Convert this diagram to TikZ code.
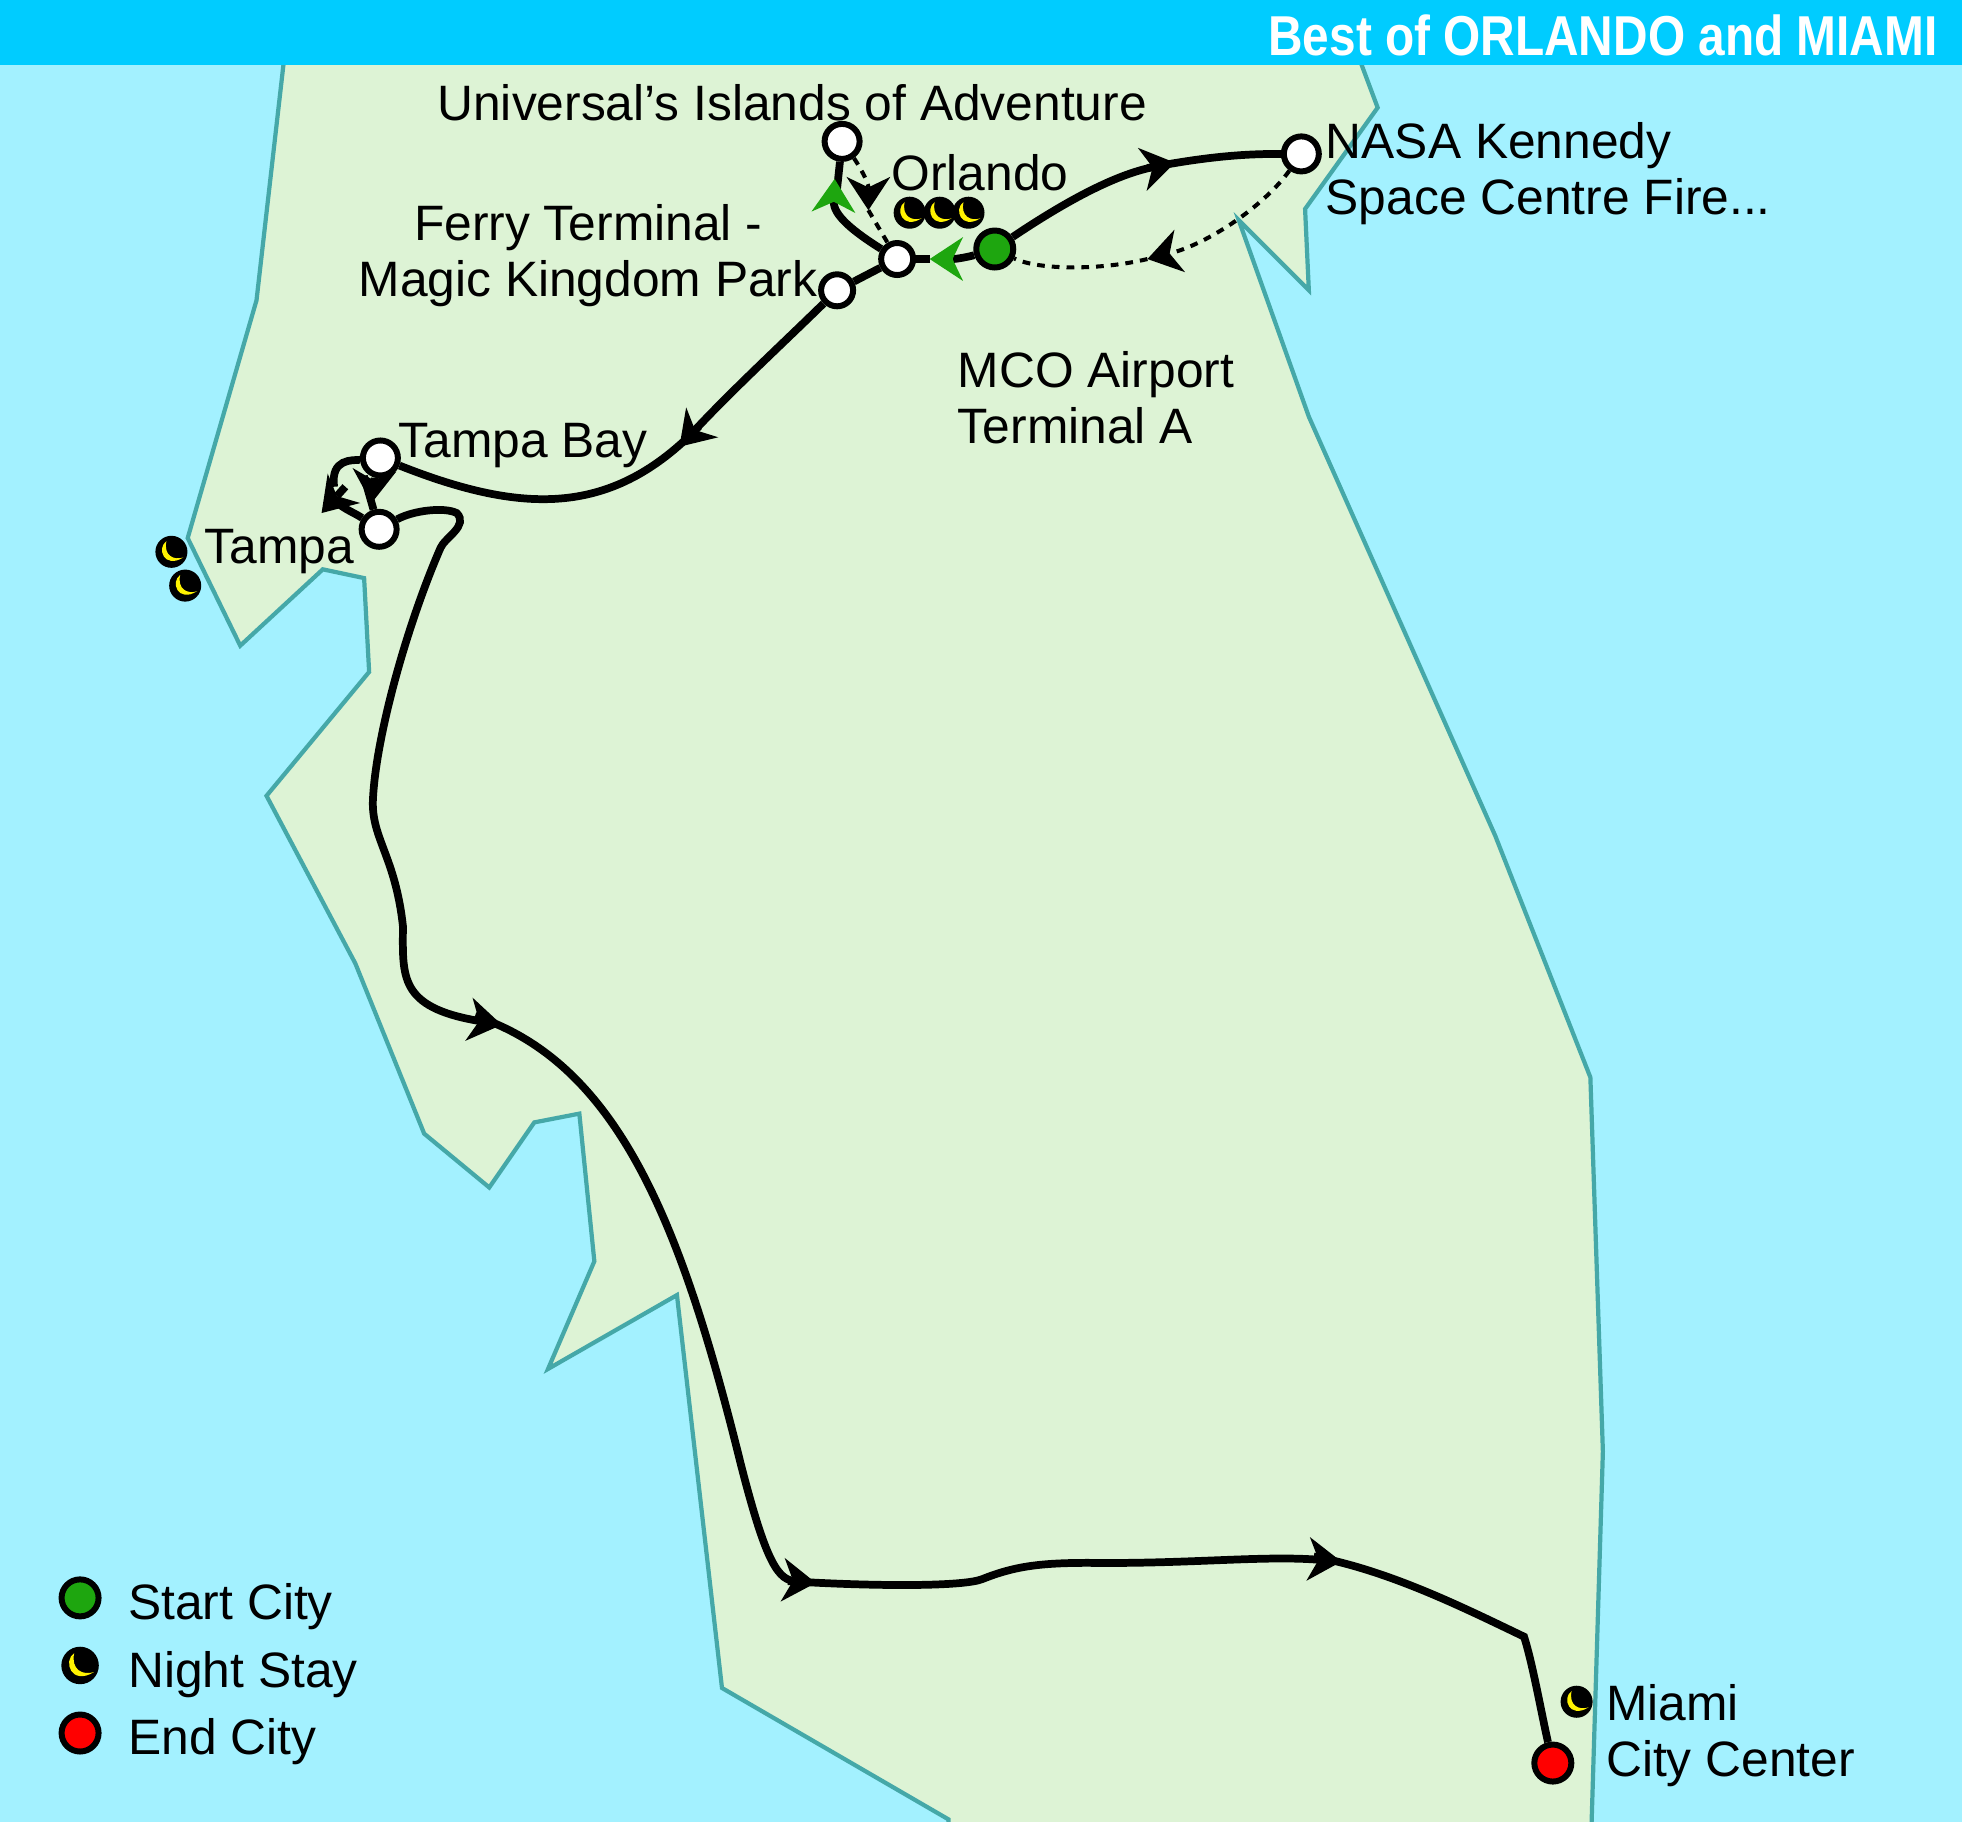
\documentclass[tikz,border=0pt]{standalone}
\usepackage{fontspec}
\setmainfont{Liberation Sans}
\usetikzlibrary{arrows.meta}
\definecolor{seablue}{HTML}{A3F1FF}
\definecolor{landgreen}{HTML}{DDF3D5}
\definecolor{coastline}{HTML}{45A8A8}
\definecolor{barblue}{HTML}{00CCFF}
\definecolor{startgreen}{HTML}{1EA60F}
\pgfdeclarelayer{map}
\pgfdeclarelayer{routes}
\pgfsetlayers{map,routes,main}
\tikzset{
  city/.style={circle,draw=black,fill=white,line width=1.7pt,minimum size=0.35cm,inner sep=0pt},
  smallcity/.style={city,minimum size=0.32cm},
  startcity/.style={city,fill=startgreen,minimum size=0.37cm},
  endcity/.style={city,fill=red,minimum size=0.37cm},
  place/.style={anchor=west,inner sep=0pt,align=left,font=\fontsize{14.15}{16}\selectfont},
  route/.style={draw=black,line width=2.2pt},
  onward/.style={route,shorten <=-8pt},
  transfer/.style={draw=black,line width=1.15pt,dash pattern=on 2.2pt off 2pt},
  >={Stealth[length=9.5pt,width=12.5pt,inset=3pt,line width=0pt]},
  greentip/.tip={Stealth[length=9.5pt,width=12.5pt,inset=3pt,line width=0pt,color=startgreen]},
  moon/.pic={
    \fill[black] (0,0) circle (12.8);
    \fill[yellow] (-4,-8.5) .. controls (-12,-3) and (-6,14) .. (9.5,4.5)
      .. controls (2,7) and (-6.5,3) .. (-4,-8.5);
  }
}
\begin{document}
\begin{tikzpicture}[x=0.012513cm,y=-0.012513cm]
\useasboundingbox (0,0) rectangle (1568,1456.1);
%
\begin{pgfonlayer}{map}
\fill[seablue] (0,0) rectangle (1568,1456.1);
\draw[coastline,fill=landgreen,line width=1.2pt,line join=miter]
  (229,30) -- (205,240) -- (150,430) -- (192,516) -- (258,455) -- (291,462)
  -- (295,537) -- (213,636) -- (284,770) -- (339,906) -- (391,949) -- (427,897)
  -- (463,890) -- (475,1008) -- (438,1094) -- (541,1035) -- (577,1349)
  -- (758,1454) -- (758,1470) -- (1272,1470) -- (1272,1456) -- (1281,1160)
  -- (1271,861) -- (1195,668) -- (1046,333) -- (990,176) -- (1046,232)
  -- (1043,167) -- (1101,86) -- (1080,30) -- cycle;
\fill[barblue] (0,0) rectangle (1568,52);
\end{pgfonlayer}
\node[anchor=east,inner sep=0pt,text=white] (title) at (1549,28)
  {\scalebox{.85}[1]{\fontsize{16}{16}\selectfont\bfseries Best of ORLANDO and MIAMI}};
%
\node[city] (islands) at (673,113) {};
\node[smallcity] (orlando) at (717,207) {};
\node[startcity] (mco) at (795,199) {};
\node[city] (nasa) at (1040,123) {};
\node[smallcity] (ferry) at (669,232) {};
\node[city] (tampabay) at (304,366) {};
\node[city] (tampa) at (303,423) {};
\node[endcity] (miami) at (1241,1409) {};
%
\node[place] (islandslabel) at (349,82) {Universal’s Islands of Adventure};
\node[place] (orlandolabel) at (712,138) {Orlando};
\node[place,anchor=center,align=center] (ferrylabel) at (470,204) {Ferry Terminal -\\Magic Kingdom Park};
\node[place] (nasalabel) at (1059,139) {NASA Kennedy\\Space Centre Fire...};
\node[place] (mcolabel) at (765,318) {MCO Airport\\Terminal A};
\node[place] (baylabel) at (318,356) {Tampa Bay};
\node[place] (tampalabel) at (163,441) {Tampa};
\node[place] (miamilabel) at (1283,1387) {Miami\\City Center};
%
\pic at (727,170) {moon};
\pic at (751,170) {moon};
\pic at (774,170) {moon};
\pic at (137,441) {moon};
\pic at (148,468) {moon};
\pic at (1260,1360) {moon};
%
\coordinate (a1) at (939,130);
\coordinate (a2) at (917,207);
\coordinate (a3) at (743,207);
\coordinate (a4) at (667,143);
\coordinate (a5) at (694,168);
\coordinate (a6) at (543,357);
\coordinate (a7) at (297,402);
\coordinate (b8) at (276,389);
\coordinate (a8) at (257,410);
\coordinate (c8) at (267,389);
\coordinate (d8) at (265,397);
\coordinate (a9) at (401,819);
\coordinate (a10) at (652,1265);
\coordinate (a11) at (1072,1248);
%
\begin{pgfonlayer}{routes}
\draw[route,->] (mco) .. controls (850,162) and (890,140) .. (a1);
\draw[onward] (a1) .. controls (970,124) and (1000,123) .. (nasa);
\draw[transfer,->] (nasa) .. controls (1010,165) and (965,195) .. (a2);
\draw[transfer] (a2) .. controls (880,216) and (830,216) .. (mco);
\draw[route] (a3) -- (orlando);
\draw[route,-greentip] (mco) .. controls (775,205) and (765,207) .. (a3);
\draw[route] (islands) -- (668,160);
\draw[route,-greentip] (orlando) .. controls (682,185) and (666,172) .. (a4);
\draw[transfer,->] (islands) .. controls (685,130) and (694,145) .. (a5);
\draw[transfer] (a5) -- (orlando);
\draw[route] (orlando) -- (ferry);
\draw[route,->] (ferry) .. controls (625,275) and (585,312) .. (a6);
\draw[onward] (a6) .. controls (490,412) and (420,412) .. (tampabay);
\draw[route,->] (tampabay) .. controls (300,380) and (298,390) .. (a7);
\draw[onward] (a7) -- (tampa);
\draw[route] (tampabay) .. controls (282,368) and (264,366) .. (c8);
\draw[route,->] (b8) -- (a8);
\draw[route] (d8) .. controls (272,406) and (282,409) .. (tampa);
\draw[route,->] (tampa) .. controls (330,408) and (355,405) .. (365,410)
  .. controls (375,420) and (355,430) .. (352,438)
  .. controls (325,500) and (300,590) .. (298,640)
  .. controls (297,670) and (316,685) .. (322,740)
  .. controls (322,780) and (318,805) .. (a9);
\draw[onward,->] (a9) .. controls (495,850) and (545,980) .. (592,1170)
  .. controls (610,1240) and (620,1262) .. (a10);
\draw[onward,->] (a10) .. controls (700,1268) and (770,1268) .. (785,1262)
  .. controls (810,1252) and (830,1249) .. (870,1249)
  .. controls (950,1250) and (1010,1243) .. (a11);
\draw[onward] (a11) .. controls (1110,1255) and (1170,1285) .. (1218,1308)
  .. controls (1225,1330) and (1232,1370) .. (miami);
\end{pgfonlayer}
%
\node[startcity] (startkey) at (64,1277) {};
\pic[scale=1.17] at (64,1331) {moon};
\node[endcity] (endkey) at (64,1385) {};
\node[place] (startlabel) at (102,1284) {Start City};
\node[place] (nightlabel) at (102,1338) {Night Stay};
\node[place] (endlabel) at (102,1392) {End City};
\end{tikzpicture}
\end{document}
